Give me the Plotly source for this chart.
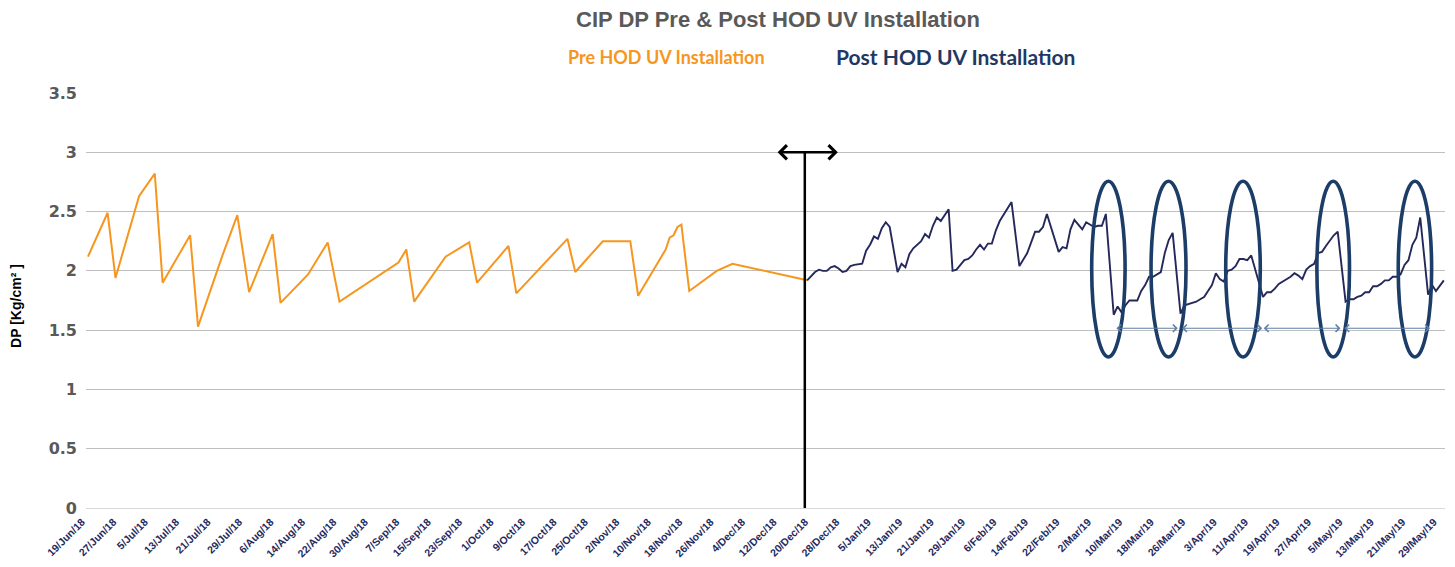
import pandas as pd
import plotly.graph_objects as go

# ---------------- data ----------------
pre_dates = ["2018-06-19", "2018-06-24", "2018-06-26", "2018-07-02", "2018-07-06", "2018-07-08",
             "2018-07-15", "2018-07-17", "2018-07-23", "2018-07-27", "2018-07-30", "2018-08-05",
             "2018-08-07", "2018-08-14", "2018-08-19", "2018-08-22", "2018-09-06", "2018-09-08",
             "2018-09-10", "2018-09-18", "2018-09-24", "2018-09-26", "2018-10-04", "2018-10-06",
             "2018-10-19", "2018-10-21", "2018-10-28", "2018-11-04", "2018-11-06", "2018-11-13",
             "2018-11-14", "2018-11-15", "2018-11-16", "2018-11-17", "2018-11-19", "2018-11-26",
             "2018-11-30", "2018-12-19"]
pre_dp = [2.12, 2.49, 1.94, 2.63, 2.82, 1.90,
          2.30, 1.53, 2.11, 2.47, 1.82, 2.31,
          1.73, 1.97, 2.24, 1.74, 2.07, 2.18,
          1.74, 2.12, 2.24, 1.90, 2.21, 1.81,
          2.27, 1.99, 2.25, 2.25, 1.79, 2.18,
          2.28, 2.30, 2.37, 2.39, 1.83, 2.00,
          2.06, 1.92]

post_dates = [
    "2018-12-19", "2018-12-21", "2018-12-22", "2018-12-23", "2018-12-24", "2018-12-25",
    "2018-12-26", "2018-12-27", "2018-12-28", "2018-12-29", "2018-12-30", "2018-12-31",
    "2019-01-02", "2019-01-03", "2019-01-04", "2019-01-05", "2019-01-06", "2019-01-07",
    "2019-01-08", "2019-01-09",
    "2019-01-11", "2019-01-12", "2019-01-13", "2019-01-14", "2019-01-15", "2019-01-16",
    "2019-01-17", "2019-01-18", "2019-01-19", "2019-01-20", "2019-01-21", "2019-01-22",
    "2019-01-24", "2019-01-25", "2019-01-26", "2019-01-27", "2019-01-28", "2019-01-29",
    "2019-01-30", "2019-01-31", "2019-02-01", "2019-02-02", "2019-02-03", "2019-02-04",
    "2019-02-05", "2019-02-06", "2019-02-07", "2019-02-08", "2019-02-09",
    "2019-02-11", "2019-02-12", "2019-02-13", "2019-02-14", "2019-02-15", "2019-02-16",
    "2019-02-17", "2019-02-18",
    "2019-02-21", "2019-02-22", "2019-02-23", "2019-02-24", "2019-02-25", "2019-02-26",
    "2019-02-27", "2019-02-28", "2019-03-01", "2019-03-02", "2019-03-03", "2019-03-04",
    "2019-03-05",
    "2019-03-07", "2019-03-08", "2019-03-09", "2019-03-10", "2019-03-11",
    "2019-03-13", "2019-03-14", "2019-03-15", "2019-03-16", "2019-03-17", "2019-03-18",
    "2019-03-19", "2019-03-20", "2019-03-21", "2019-03-22",
    "2019-03-24", "2019-03-25", "2019-03-26",
    "2019-03-28", "2019-03-29", "2019-03-30", "2019-03-31", "2019-04-01", "2019-04-02",
    "2019-04-03", "2019-04-04", "2019-04-05", "2019-04-06", "2019-04-07", "2019-04-08",
    "2019-04-09", "2019-04-10", "2019-04-11",
    "2019-04-14", "2019-04-15", "2019-04-16", "2019-04-17", "2019-04-18", "2019-04-19",
    "2019-04-20", "2019-04-21", "2019-04-22", "2019-04-23", "2019-04-24", "2019-04-25",
    "2019-04-26", "2019-04-27", "2019-04-28", "2019-04-29", "2019-04-30", "2019-05-01",
    "2019-05-02", "2019-05-03",
    "2019-05-05", "2019-05-06", "2019-05-07", "2019-05-08", "2019-05-09", "2019-05-10",
    "2019-05-11", "2019-05-12", "2019-05-13", "2019-05-14", "2019-05-15", "2019-05-16",
    "2019-05-17", "2019-05-18", "2019-05-19", "2019-05-20", "2019-05-21", "2019-05-22",
    "2019-05-23", "2019-05-24",
    "2019-05-26", "2019-05-27", "2019-05-28", "2019-05-30"]
post_dp = [
    1.92, 1.99, 2.01, 2.00, 2.00, 2.03,
    2.04, 2.02, 1.99, 2.00, 2.04, 2.05,
    2.06, 2.17, 2.22, 2.29, 2.27, 2.36,
    2.41, 2.37,
    1.99, 2.06, 2.03, 2.14, 2.19, 2.22,
    2.25, 2.31, 2.28, 2.38, 2.45, 2.42,
    2.52, 2.00, 2.01, 2.05, 2.09, 2.10,
    2.13, 2.18, 2.22, 2.18, 2.23, 2.23,
    2.34, 2.42, 2.47, 2.52, 2.58,
    2.04, 2.10, 2.15, 2.24, 2.33, 2.33,
    2.37, 2.48,
    2.16, 2.20, 2.19, 2.35, 2.43, 2.39,
    2.35, 2.41, 2.39, 2.37, 2.38, 2.38,
    2.48,
    1.63, 1.70, 1.65, 1.71, 1.75,
    1.75, 1.83, 1.88, 1.95, 1.95, 1.97,
    1.99, 2.15, 2.26, 2.32,
    1.64, 1.71, 1.72,
    1.74, 1.76, 1.78, 1.83, 1.88, 1.98,
    1.93, 1.91, 2.00, 2.01, 2.04, 2.10,
    2.10, 2.09, 2.13,
    1.78, 1.82, 1.82, 1.85, 1.89, 1.91,
    1.93, 1.95, 1.98, 1.96, 1.93, 2.01,
    2.04, 2.06, 2.15, 2.16, 2.21, 2.25,
    2.30, 2.33,
    1.74, 1.76, 1.76, 1.78, 1.79, 1.82,
    1.82, 1.87, 1.87, 1.89, 1.92, 1.92,
    1.95, 1.95, 1.97, 2.05, 2.09, 2.22,
    2.28, 2.45,
    1.80, 1.88, 1.83, 1.92]

assert len(pre_dates) == len(pre_dp)
assert len(post_dates) == len(post_dp)

title_text = "CIP DP Pre & Post HOD UV Installation"
pre_label = "Pre HOD UV Installation"
post_label = "Post HOD UV Installation"
y_title = "DP [Kg/cm² ]"
first_tick = "2018-06-19"

# ---------------- styles ----------------
ORANGE = "#F7961E"
NAVY = "#24285A"
ELLIPSE = "#1B3D68"
STEEL = "#5E7FA6"
GRID = "#BFBFBF"

base = pd.Timestamp(first_tick)


def d(days):
    return (base + pd.Timedelta(days=days)).strftime("%Y-%m-%d %H:%M:%S")


fig = go.Figure()
fig.add_trace(go.Scatter(x=pd.to_datetime(pre_dates), y=pre_dp, mode="lines",
                         line=dict(color=ORANGE, width=2), name=pre_label,
                         showlegend=False))
fig.add_trace(go.Scatter(x=pd.to_datetime(post_dates), y=post_dp, mode="lines",
                         line=dict(color=NAVY, width=1.9), name=post_label,
                         showlegend=False))

shapes = []
# vertical divider line
shapes.append(dict(type="line", xref="x", yref="y", x0=d(182.4), x1=d(182.4), y0=0, y1=3.0,
                   line=dict(color="black", width=2.5)))
# ellipses
for a, b in [(255.4, 263.9), (270.5, 279.4), (289.5, 298.3), (312.7, 321.0), (333.4, 341.9)]:
    shapes.append(dict(type="circle", xref="x", yref="y", x0=d(a), x1=d(b), y0=1.274, y1=2.756,
                       line=dict(color=ELLIPSE, width=3.6), layer="above"))

annotations = []
# double headed arrow at top
annotations.append(dict(x=d(190.8), y=3.0, ax=d(175.1), ay=3.0, xref="x", yref="y",
                        axref="x", ayref="y", text="", showarrow=True, arrowhead=4,
                        arrowside="end+start", arrowsize=1.1, arrowwidth=2.5,
                        arrowcolor="black"))
# small blue arrows
for a, b in [(261.3, 277.3), (278.0, 298.8), (298.8, 318.7), (319.3, 341.5)]:
    annotations.append(dict(x=d(b), y=1.516, ax=d(a), ay=1.516, xref="x", yref="y",
                            axref="x", ayref="y", text="", showarrow=True, arrowhead=4,
                            arrowside="end+start", arrowsize=1.2, arrowwidth=1.2,
                            arrowcolor=STEEL))
# titles
annotations.append(dict(text="<b>" + title_text + "</b>", xref="paper", yref="paper",
                        x=0.509, y=1.176, showarrow=False, xanchor="center", yanchor="middle",
                        font=dict(family="Liberation Sans, Arial", size=22, color="#595959")))
annotations.append(dict(text="<b>" + pre_label + "</b>", xref="paper", yref="paper",
                        x=0.4275, y=1.087, showarrow=False, xanchor="center", yanchor="middle",
                        font=dict(family="Lato, Open Sans", size=18, color=ORANGE)))
annotations.append(dict(text="<b>" + post_label + "</b>", xref="paper", yref="paper",
                        x=0.640, y=1.087, showarrow=False, xanchor="center", yanchor="middle",
                        font=dict(family="Lato, Open Sans", size=21, color="#1F3864")))
annotations.append(dict(text="<b>" + y_title + "</b>", xref="paper", yref="paper",
                        x=-0.0515, y=0.487, showarrow=False, textangle=-90,
                        xanchor="center", yanchor="middle",
                        font=dict(family="Liberation Sans, Arial", size=14, color="black")))

# The page has an 8px body margin, so the figure is drawn 8px in from the window corner.
fig.update_layout(
    width=1447, height=559,
    margin=dict(l=78, r=10, t=85, b=59),
    plot_bgcolor="white", paper_bgcolor="white",
    shapes=shapes, annotations=annotations,
    showlegend=False,
)
fig.update_xaxes(
    type="date",
    range=[d(-0.5), d(345.3)],
    tick0=first_tick, dtick=8 * 24 * 3600 * 1000,
    tickformat="%-d/%b/%y", tickangle=-45,
    tickprefix="<b>", ticksuffix="</b>",
    tickfont=dict(family="Liberation Sans, Arial", size=10.5, color="#1F2A5E"),
    ticklabelshift=-6, ticklabelstandoff=5,
    showgrid=False, zeroline=False, showline=False, ticks="",
    automargin=False,
)
fig.update_yaxes(
    range=[0, 3.5], dtick=0.5,
    showgrid=True, gridcolor=GRID, gridwidth=1,
    zeroline=True, zerolinecolor="#D9D9D9", zerolinewidth=1,
    tickfont=dict(family="DejaVu Sans", size=16, color="#595959"),
    tickprefix="<b>", ticksuffix="</b>",
    ticklabelstandoff=8,
    automargin=False,
)

fig.write_html("out.html")
